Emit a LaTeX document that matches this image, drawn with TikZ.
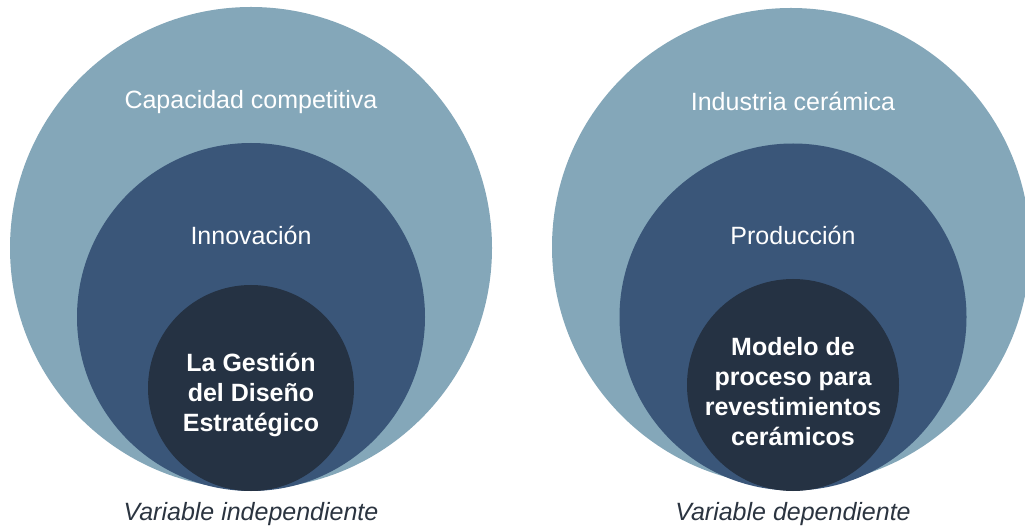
\documentclass[tikz,border=0pt]{standalone}
\usepackage{fontspec}
\setmainfont{Liberation Sans}
\usepackage{tikz}
\definecolor{outerblue}{HTML}{84A7B9}
\definecolor{midblue}{HTML}{3A5679}
\definecolor{innerblue}{HTML}{253243}
\definecolor{captiongray}{HTML}{2B3440}
\tikzset{
	disc/.style={circle, inner sep=0pt, minimum size=#1},
	ringtext/.style={text=white, font=\fontsize{25}{30}\selectfont},
	coretext/.style={text=white, align=center, font=\fontsize{25}{30}\selectfont\bfseries},
	captext/.style={text=captiongray, font=\fontsize{25}{30}\selectfont\itshape}
}
\begin{document}
\begin{tikzpicture}[x=1pt, y=-1pt]
	\useasboundingbox (0,0) rectangle (1025,526);
	% left: independent variable
	\node[disc=482, fill=outerblue] (capL) at (251,248) {};
	\node[disc=348, fill=midblue] (innL) at (251,317) {};
	\node[disc=206, fill=innerblue] (gesL) at (251,388) {};
	\node[ringtext] (capT) at (251,102) {Capacidad competitiva};
	\node[ringtext] (innT) at (251,235) {Innovación};
	\node[coretext] (gesT) at (251,395) {La Gestión\\del Diseño\\Estratégico};
	\node[captext] (indT) at (251,514) {Variable independiente};
	% right: dependent variable
	\node[disc=478, fill=outerblue] (indR) at (791,247) {};
	\node[disc=347, fill=midblue] (proR) at (793,317) {};
	\node[disc=212, fill=innerblue] (modR) at (793,385) {};
	\node[ringtext] (indRT) at (793,101) {Industria cerámica};
	\node[ringtext] (proRT) at (793,235) {Producción};
	\node[coretext] (modRT) at (793,392) {Modelo de\\proceso para\\revestimientos\\cerámicos};
	\node[captext] (depT) at (793,514) {Variable dependiente};
\end{tikzpicture}
\end{document}
